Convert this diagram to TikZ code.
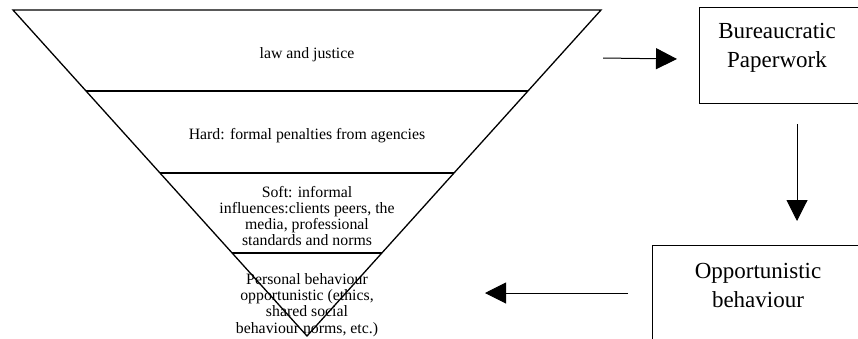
\documentclass[tikz,border=0pt]{standalone}
\usepackage{fontspec}
\setmainfont{Liberation Serif}
\usetikzlibrary{arrows.meta}
\tikzset{
  layer/.style={align=center,font=\fontsize{15.8}{16.3}\selectfont,inner sep=0pt},
  box/.style={draw,line width=1pt,inner sep=0pt},
  boxtext/.style={align=center,font=\fontsize{23}{29}\selectfont,inner sep=0pt},
  arr/.style={line width=1pt,-{Triangle[length=21pt,width=21pt]}}
}
\begin{document}
\begin{tikzpicture}[x=1pt,y=-1pt]
\useasboundingbox (0,0) rectangle (858,338);
% pyramid text
\node[layer] (law) at (307,55) {law and justice};
\node[layer] (hard) at (307,136) {Hard: formal penalties from agencies};
\node[layer] (soft) at (307,216) {Soft: informal\\influences:clients peers, the\\media, professional\\standards and norms};
\node[layer] (pers) at (307,305) {Personal behaviour\\opportunistic (ethics,\\shared social\\behaviour norms, etc.)};

% pyramid
\coordinate (tl) at (13,10);
\coordinate (tr) at (601,10);
\coordinate (ap) at (307,336);
\coordinate (l1) at (86,91);
\coordinate (r1) at (528,91);
\coordinate (l2) at (160,173);
\coordinate (r2) at (454,173);
\coordinate (l3) at (232,253);
\coordinate (r3) at (382,253);
\draw[line width=1.3pt,line join=miter] (tl) -- (tr) -- (ap) -- cycle;
\draw[line width=1.5pt] (l1) -- (r1);
\draw[line width=1.5pt] (l2) -- (r2);
\draw[line width=1.5pt] (l3) -- (r3);

% boxes
\node[box,anchor=north west,minimum width=175pt,minimum height=96pt] (bur) at (699,7) {};
\node[boxtext] (burtxt) at (777,48) {Bureaucratic\\Paperwork};
\node[box,anchor=north west,minimum width=220pt,minimum height=120pt] (opp) at (652,245) {};
\node[boxtext] (opptxt) at (758,285) {Opportunistic\\behaviour};

% arrows
\coordinate (a1) at (603,58);
\coordinate (a2) at (677,59);
\coordinate (b1) at (797,124);
\coordinate (b2) at (797,221);
\coordinate (c1) at (628,293);
\coordinate (c2) at (485,293);
\path [arr] (a1) edge node {} (a2);
\path [arr] (b1) edge node {} (b2);
\path [arr] (c1) edge node {} (c2);
\end{tikzpicture}
\end{document}
